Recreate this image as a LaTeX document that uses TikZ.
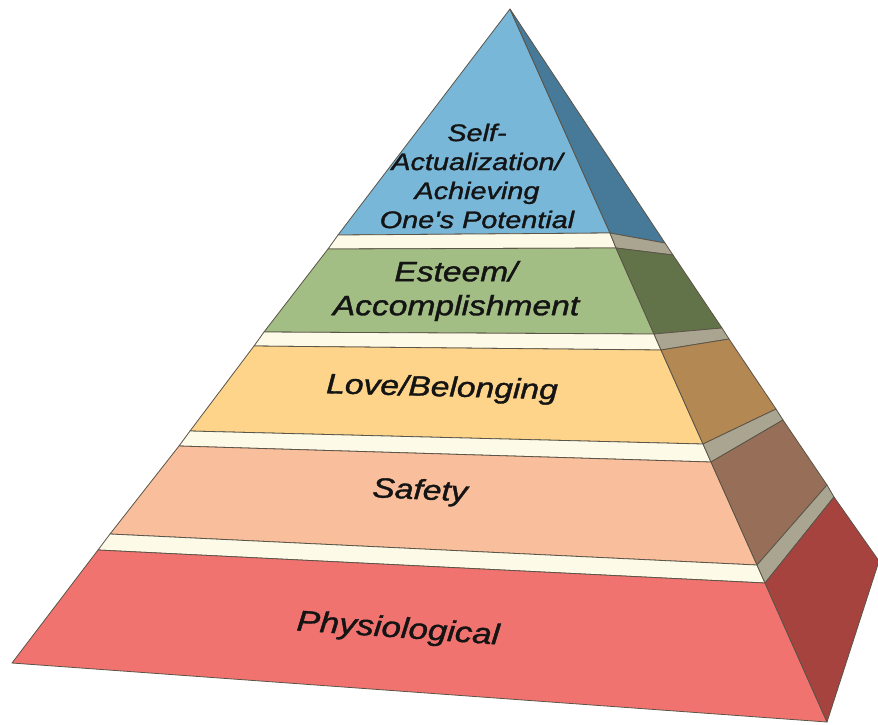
\documentclass[tikz,border=0pt]{standalone}
\usepackage{fontspec}
\setmainfont{Liberation Sans}[ItalicFeatures={FakeBold=1.2}]
\usepackage{graphicx}

\definecolor{frontBlue}{HTML}{79B7D9}
\definecolor{sideBlue}{HTML}{477A99}
\definecolor{cream}{HTML}{FDFBE7}
\definecolor{sideGray}{HTML}{A9A590}
\definecolor{frontGreen}{HTML}{A3BE84}
\definecolor{sideGreen}{HTML}{627349}
\definecolor{frontYellow}{HTML}{FDD48A}
\definecolor{sideYellow}{HTML}{B38852}
\definecolor{frontSalmon}{HTML}{F9BE9B}
\definecolor{sideSalmon}{HTML}{976F59}
\definecolor{frontRed}{HTML}{F0736F}
\definecolor{sideRed}{HTML}{A6433F}
\definecolor{edgeLine}{HTML}{5B5448}
\definecolor{labelInk}{HTML}{141414}

\newcommand{\wide}[1]{\scalebox{1.2}[1]{#1}}

\tikzset{
  face/.style={draw=edgeLine, line width=0.8pt, line join=round},
  level/.style={text=labelInk, font=\itshape\fontsize{28}{34}\selectfont, align=center, inner sep=0pt}
}

\begin{document}
\begin{tikzpicture}[x=1pt, y=-1pt]
    \useasboundingbox (0,0) rectangle (878,724);
    \fill[white] (0,0) rectangle (878,724);

    % apex and base corners
    \coordinate (apex) at (510,9);
    \coordinate (baseL) at (12,663);
    \coordinate (baseR) at (827,722);
    \coordinate (baseB) at (879,561);
    % left edge
    \coordinate (L1) at (338,235); \coordinate (L2) at (328,249);
    \coordinate (L3) at (264,332); \coordinate (L4) at (254,346);
    \coordinate (L5) at (190,431); \coordinate (L6) at (179,446);
    \coordinate (L7) at (110,534); \coordinate (L8) at (98,550);
    % front ridge
    \coordinate (R1) at (610,233); \coordinate (R2) at (616,248);
    \coordinate (R3) at (654,334); \coordinate (R4) at (661,350);
    \coordinate (R5) at (703,444); \coordinate (R6) at (711,462);
    \coordinate (R7) at (757,565); \coordinate (R8) at (765,583);
    % outer right edge
    \coordinate (O1) at (665,243); \coordinate (O2) at (673,255);
    \coordinate (O3) at (722,328); \coordinate (O4) at (729,339);
    \coordinate (O5) at (776,409); \coordinate (O6) at (783,420);
    \coordinate (O7) at (827,485); \coordinate (O8) at (834,497);

    %Self-Actualization
    \filldraw[face, fill=frontBlue] (apex) -- (R1) -- (L1) -- cycle;
    \filldraw[face, fill=sideBlue] (apex) -- (O1) -- (R1) -- cycle;
    \filldraw[face, fill=cream] (L1) -- (R1) -- (R2) -- (L2) -- cycle;
    \filldraw[face, fill=sideGray] (R1) -- (O1) -- (O2) -- (R2) -- cycle;
    %Esteem
    \filldraw[face, fill=frontGreen] (L2) -- (R2) -- (R3) -- (L3) -- cycle;
    \filldraw[face, fill=sideGreen] (R2) -- (O2) -- (O3) -- (R3) -- cycle;
    \filldraw[face, fill=cream] (L3) -- (R3) -- (R4) -- (L4) -- cycle;
    \filldraw[face, fill=sideGray] (R3) -- (O3) -- (O4) -- (R4) -- cycle;
    %Love/Belonging
    \filldraw[face, fill=frontYellow] (L4) -- (R4) -- (R5) -- (L5) -- cycle;
    \filldraw[face, fill=sideYellow] (R4) -- (O4) -- (O5) -- (R5) -- cycle;
    \filldraw[face, fill=cream] (L5) -- (R5) -- (R6) -- (L6) -- cycle;
    \filldraw[face, fill=sideGray] (R5) -- (O5) -- (O6) -- (R6) -- cycle;
    %Safety
    \filldraw[face, fill=frontSalmon] (L6) -- (R6) -- (R7) -- (L7) -- cycle;
    \filldraw[face, fill=sideSalmon] (R6) -- (O6) -- (O7) -- (R7) -- cycle;
    \filldraw[face, fill=cream] (L7) -- (R7) -- (R8) -- (L8) -- cycle;
    \filldraw[face, fill=sideGray] (R7) -- (O7) -- (O8) -- (R8) -- cycle;
    %Physiological
    \filldraw[face, fill=frontRed] (L8) -- (R8) -- (baseR) -- (baseL) -- cycle;
    \filldraw[face, fill=sideRed] (R8) -- (O8) -- (baseB) -- (baseR) -- cycle;

    % labels
    \node[level, font=\itshape\fontsize{24}{29}\selectfont] (selfact) at (477,176)
        {\wide{Self-}\\\wide{Actualization/}\\\wide{Achieving}\\\wide{One\textquotesingle s Potential}};
    \node[level] (esteem) at (456,291) {\wide{Esteem/}\\\wide{Accomplishment}};
    \node[level, rotate=-1.5] (love) at (442,389) {\wide{Love/Belonging}};
    \node[level, rotate=-2.5] (safety) at (420,492) {\wide{Safety}};
    \node[level, rotate=-4, font=\itshape\fontsize{29}{34}\selectfont] (physio) at (398,630) {\wide{Physiological}};
\end{tikzpicture}
\end{document}
